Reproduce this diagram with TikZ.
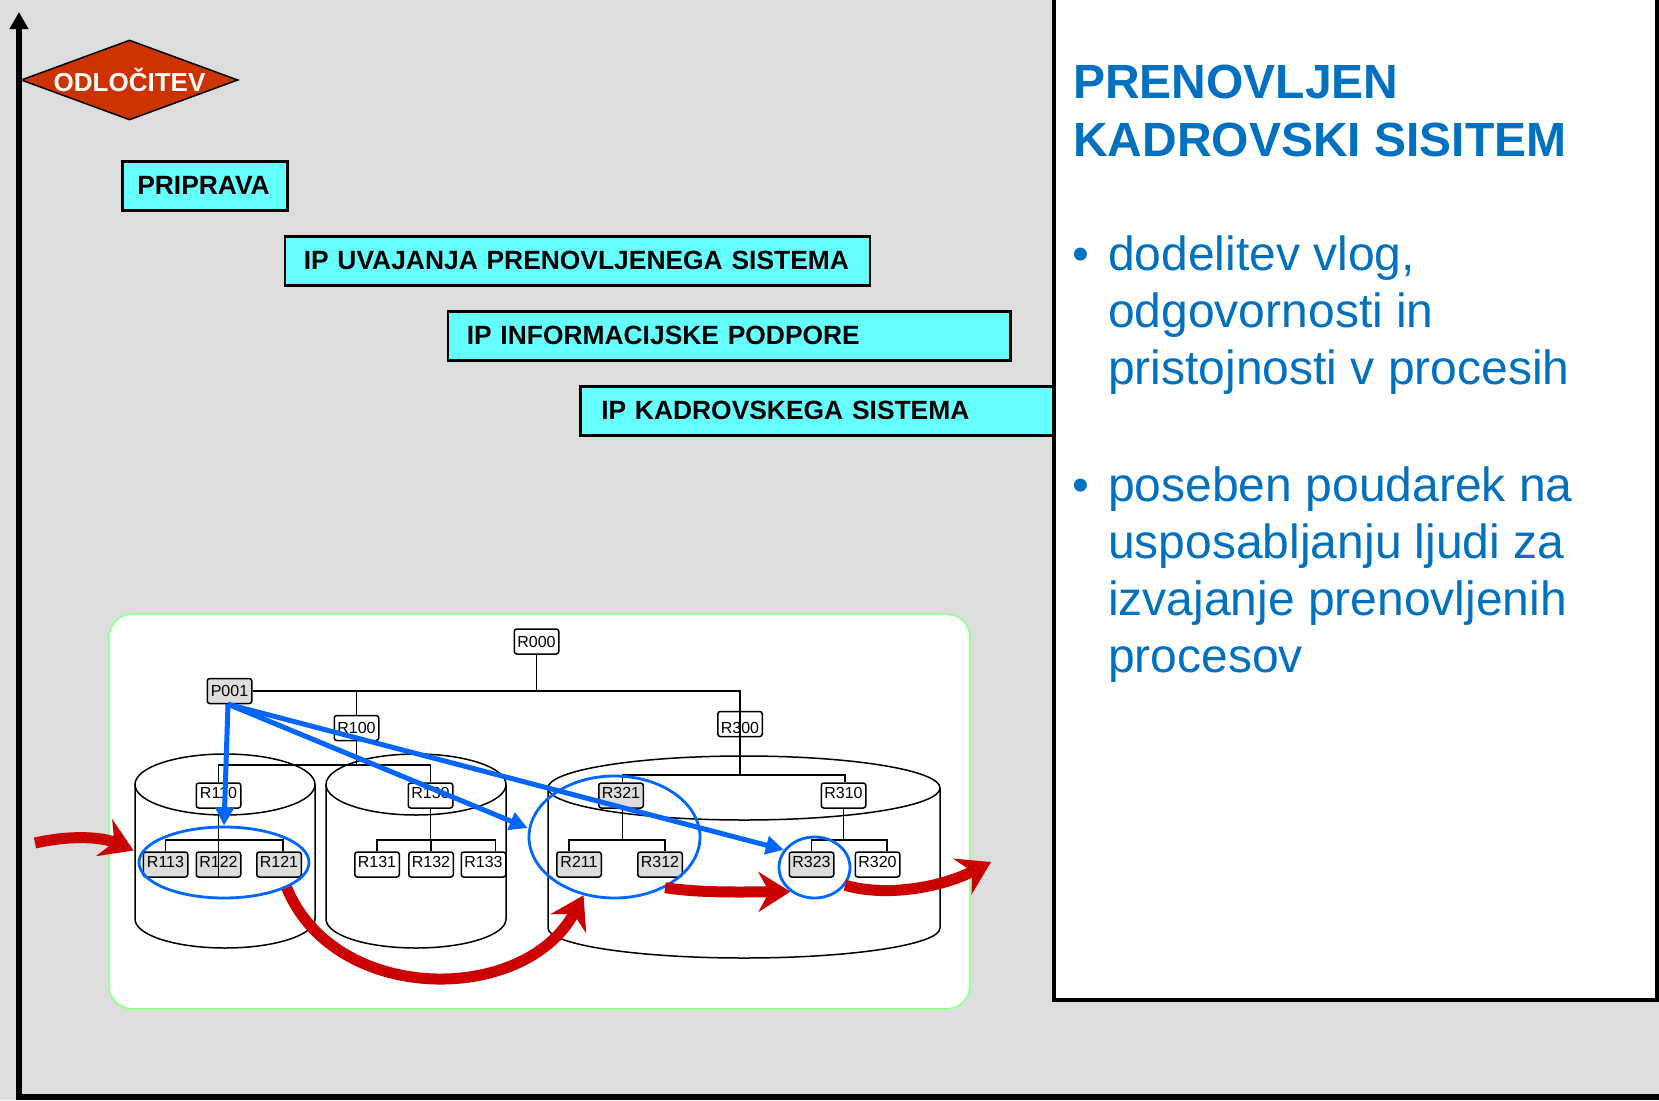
\documentclass[tikz,border=0pt]{standalone}
\usepackage{fontspec}
\setmainfont{Liberation Sans}
\usetikzlibrary{arrows.meta,shapes.geometric,calc}
\definecolor{bg}{RGB}{221,221,221}
\definecolor{cyanbox}{RGB}{102,255,255}
\definecolor{decis}{RGB}{204,51,0}
\definecolor{titleblue}{RGB}{0,112,192}
\definecolor{arrblue}{RGB}{0,102,255}
\definecolor{arrred}{RGB}{204,0,0}
\definecolor{framegreen}{RGB}{153,255,153}
\definecolor{boxgray}{RGB}{221,221,221}
\begin{document}
\begin{tikzpicture}[x=1pt,y=-1pt,
  chart/.style={draw, rounded corners=2.5pt, line width=1.5pt, minimum width=44.5pt, minimum height=25pt, inner sep=0pt, font=\fontsize{16}{18}\selectfont, fill=white},
  chartg/.style={chart, fill=boxgray},
  hi/.style={text height=15pt, text depth=10pt},
  lo/.style={text height=22pt, text depth=3pt},
  task/.style={draw, fill=cyanbox, line width=2.5pt, anchor=north west, minimum height=49pt, inner ysep=0pt, align=left, font=\bfseries\fontsize{26.4}{30}\selectfont},
  conn/.style={line width=1.5pt},
  blueell/.style={ellipse, draw=arrblue, line width=2.8pt, inner sep=0pt},
  bluearr/.style={draw=arrblue, line width=5pt, -{Triangle[length=18pt,width=18pt]}},
  redarr/.style={draw=arrred, line width=11pt, -{Stealth[length=32pt,width=40pt,inset=11pt]}},
  cyl/.style={line width=1.5pt},
  paneltext/.style={anchor=base west, inner sep=0pt, text=titleblue, font=\fontsize{48}{57}\selectfont},
  paneltitle/.style={paneltext, font=\bfseries\fontsize{48}{57}\selectfont}
]
\useasboundingbox (0,0) rectangle (1659,1100);
\clip (0,0) rectangle (1659,1100);
\fill[bg] (0,0) rectangle (1659,1100);

% axes
\coordinate (axisTop) at (19,12);
\coordinate (origin) at (19,1097);
\coordinate (axisRight) at (1690,1097);
\draw[line width=6pt, {Triangle[length=17pt,width=18pt]}-] (axisTop) -- (origin) -- (axisRight);

% decision diamond
\node[diamond, draw, fill=decis, line width=1.5pt, minimum width=217pt, minimum height=80pt, inner sep=0pt] (dec) at (129.5,80) {};
\node[text=white, font=\bfseries\fontsize{26}{30}\selectfont, inner sep=0pt] (dectext) at (dec.center) {ODLOČITEV};

% phase boxes
\node[task, inner xsep=15pt, text width=135pt] (pripr) at (121,160) {PRIPRAVA};
\node[task, inner xsep=19pt, text width=547pt] (uvaj) at (283.5,235) {IP UVAJANJA PRENOVLJENEGA SISTEMA};
\node[task, inner xsep=19pt, text width=524.5pt] (info) at (446.5,310) {IP INFORMACIJSKE PODPORE};
\node[task, inner xsep=21pt, text width=459pt] (kadr) at (579,385) {IP KADROVSKEGA SISTEMA};

% right panel
\draw[line width=4pt, fill=white] (1053.5,-10) rectangle (1657,1000);
\node[paneltitle] (t1) at (1073,98) {PRENOVLJEN};
\node[paneltitle] (t2) at (1073,156.5) {KADROVSKI SISITEM};
\node[paneltext] (b1) at (1072,270) {•};
\node[paneltext] (l1) at (1108,270) {dodelitev vlog,};
\node[paneltext] (l2) at (1108,327) {odgovornosti in};
\node[paneltext] (l3) at (1108,384) {pristojnosti v procesih};
\node[paneltext] (b2) at (1072,501) {•};
\node[paneltext] (l4) at (1108,501) {poseben poudarek na};
\node[paneltext] (l5) at (1108,558) {usposabljanju ljudi za};
\node[paneltext] (l6) at (1108,615) {izvajanje prenovljenih};
\node[paneltext] (l7) at (1108,672) {procesov};

% white frame
\draw[framegreen, line width=2pt, fill=white, rounded corners=23pt] (109,614) rectangle (970,1009);

% cylinders
\draw[cyl] (225,784.5) ellipse [x radius=90pt, y radius=30.5pt];
\draw[cyl] (135,784.5) -- (135,919) arc[start angle=180, end angle=360, x radius=90pt, y radius=29pt] -- (315,784.5);
\draw[cyl] (416,784.5) ellipse [x radius=90pt, y radius=30.5pt];
\draw[cyl] (326,784.5) -- (326,919) arc[start angle=180, end angle=360, x radius=90pt, y radius=29pt] -- (506,784.5);
\draw[cyl] (744,788) ellipse [x radius=196pt, y radius=32pt];
\draw[cyl] (548,788) -- (548,928) arc[start angle=180, end angle=360, x radius=196pt, y radius=30pt] -- (940,788);

% org chart nodes
\node[chart] (R000) at (536.5,641.5) {R000};
\node[chartg] (P001) at (229.5,691) {P001};
\node[chart] (R100) at (356.5,728) {R100};
\node[chart, lo] (R300) at (740,724) {R300};
\node[chart, hi] (R110) at (218.5,795.5) {R110};
\node[chart, hi] (R130) at (430.5,795.5) {R130};
\node[chartg, hi] (R321) at (621,795.5) {R321};
\node[chart, hi] (R310) at (843.5,795.5) {R310};
\node[chartg, hi] (R113) at (165.5,864.5) {R113};
\node[chartg, hi] (R122) at (218.5,864.5) {R122};
\node[chartg, hi] (R121) at (279,864.5) {R121};
\node[chart, hi] (R131) at (377,864.5) {R131};
\node[chart, hi] (R132) at (431,864.5) {R132};
\node[chart, hi] (R133) at (483.5,864.5) {R133};
\node[chartg, hi] (R211) at (579,864.5) {R211};
\node[chartg, hi] (R312) at (660,864.5) {R312};
\node[chartg, hi] (R323) at (811.5,864.5) {R323};
\node[chart, hi] (R320) at (877.5,864.5) {R320};

% connectors
\coordinate (busA) at (0,765);
\coordinate (busB) at (0,775);
\coordinate (busC) at (0,840);
\draw[conn] (R000.south) -- (R000.south |- P001.east);
\draw[conn] (P001.east) -| (R300.north);
\draw[conn] (R100.north) -- (R100.north |- P001.east);
\draw[conn] (R300.north) -- (R300.south);
\draw[conn] (R100.south) -- (R100.south |- busA);
\draw[conn] (R110.north) |- (R130.north |- busA) -- (R130.north);
\draw[conn] (R300.south) -- (R300.south |- busB);
\draw[conn] ([xshift=1.5pt]R321.north) |- ([xshift=1.5pt]R310.north |- busB) -- ([xshift=1.5pt]R310.north);
\draw[conn] (R110.south) -- (R110.south |- R122.south);
\draw[conn] (R113.north) |- ([xshift=4pt]R121.north |- busC) -- ([xshift=4pt]R121.north);
\draw[conn] (R130.south) -- (R130.south |- busC);
\draw[conn] (R131.north) |- ([xshift=12pt]R133.north |- busC) -- ([xshift=12pt]R133.north);
\draw[conn] (R132.north) -- (R132.north |- busC);
\draw[conn] ([xshift=1.5pt]R321.south) -- ([xshift=1.5pt]R321.south |- busC);
\draw[conn] ([xshift=-10pt]R211.north) |- ([xshift=5pt]R312.north |- busC) -- ([xshift=5pt]R312.north);
\draw[conn] (R310.south) -- (R310.south |- busC);
\draw[conn] (R323.north) |- ([xshift=9.5pt]R320.north |- busC) -- ([xshift=9.5pt]R320.north);

% blue selections
\node[blueell, minimum width=170pt, minimum height=71pt] (E1) at (224,862.5) {};
\node[blueell, minimum width=171pt, minimum height=122pt] (E2) at (614.5,837) {};
\node[blueell, minimum width=71pt, minimum height=61pt] (E3) at (814.5,867.5) {};

\draw[bluearr] ([xshift=-1.5pt]P001.south) -- (E1.north);
\draw[bluearr] ([xshift=-1.5pt]P001.south) -- ([yshift=9pt]E2.west);
\draw[bluearr] ([xshift=-1.5pt]P001.south) -- (E3.150);

% red flow arrows
\coordinate (in1) at (35,843);
\coordinate (out2) at (991,862);
\draw[redarr] (in1) .. controls (75,834) and (105,838) .. ([shift={(-4,-12)}]E1.west);
\draw[redarr] (E1.-22) .. controls (335,1005) and (525,1005) .. (E2.-118);
\draw[redarr] (E2.-45) .. controls (700,893) and (740,892) .. (E3.-135);
\draw[redarr] (E3.-30) .. controls (885,897) and (940,888) .. (out2);
\end{tikzpicture}
\end{document}
